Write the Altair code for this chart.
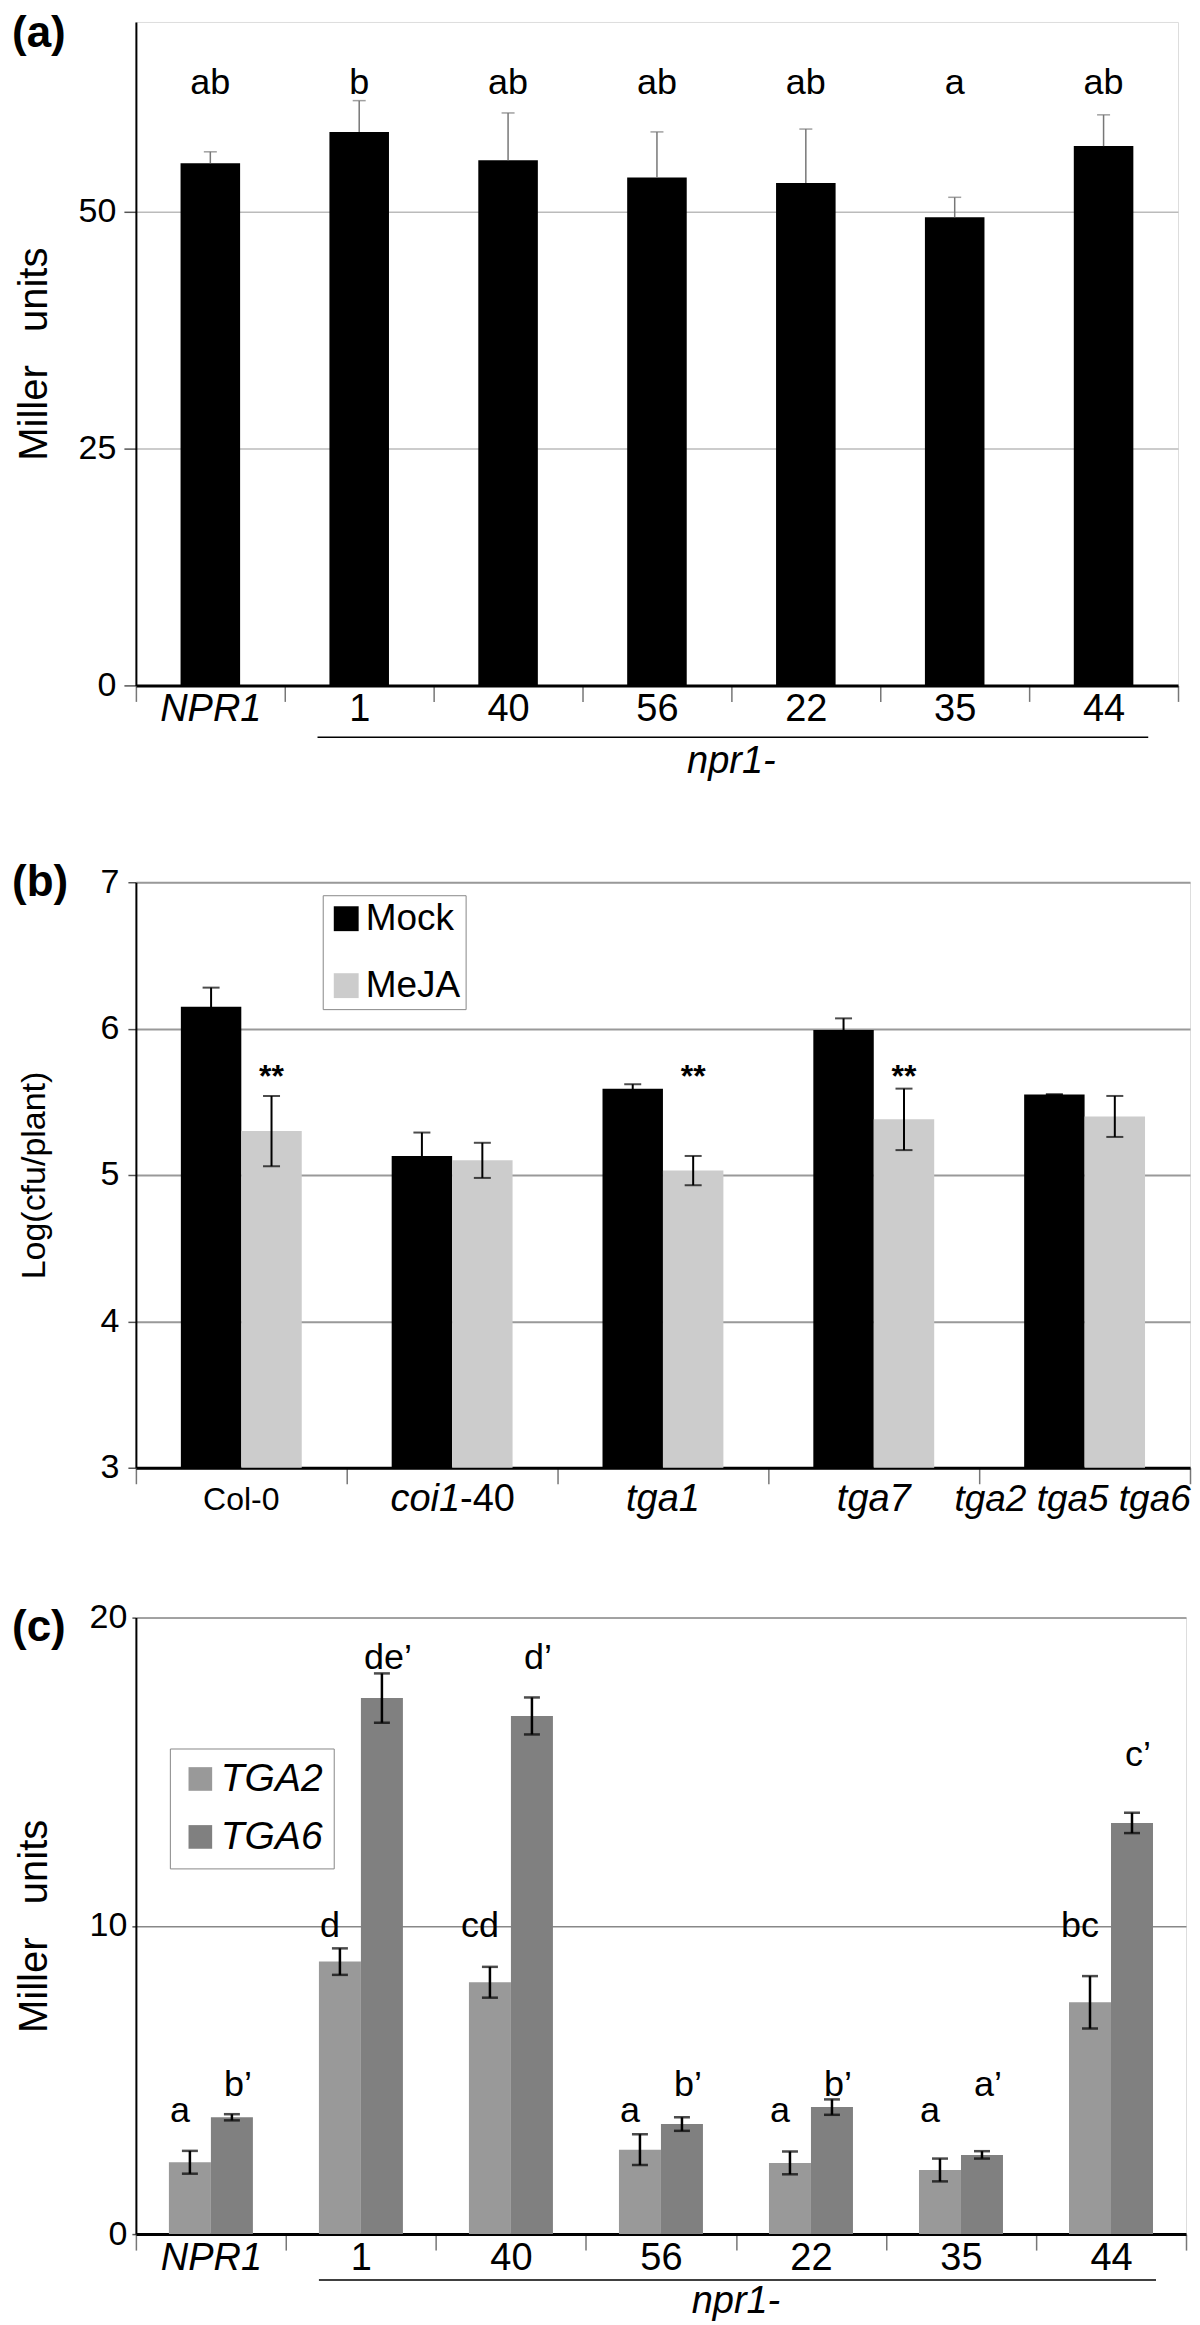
import altair as alt
import pandas as pd

FONT = "Liberation Sans, Arial, Helvetica, sans-serif"

# ---------------- Panel (a) data ----------------
a_lines = ["NPR1", "1", "40", "56", "22", "35", "44"]
a_mean = [55.1, 58.4, 55.4, 53.6, 53.0, 49.4, 56.9]
a_err = [1.2, 3.3, 5.0, 4.8, 5.7, 2.1, 3.3]
a_letters = ["ab", "b", "ab", "ab", "ab", "a", "ab"]
a_letter_y = 62.4

# ---------------- Panel (b) data ----------------
b_groups = ["Col-0", "coi1-40", "tga1", "tga7", "tga2 tga5 tga6"]
b_treat = ["Mock", "MeJA"]
b_mock = [6.15, 5.13, 5.59, 5.99, 5.55]
b_mock_err = [0.13, 0.16, 0.03, 0.08, 0.0]
b_meja = [5.30, 5.10, 5.03, 5.38, 5.40]
b_meja_err = [0.24, 0.12, 0.10, 0.21, 0.14]
b_sig_groups = ["Col-0", "tga1", "tga7"]
b_sig_text = "**"
b_sig_y = 5.6

# ---------------- Panel (c) data ----------------
c_lines = ["NPR1", "1", "40", "56", "22", "35", "44"]
c_genes = ["TGA2", "TGA6"]
c_tga2 = [2.33, 8.84, 8.17, 2.74, 2.31, 2.08, 7.52]
c_tga2_err = [0.37, 0.43, 0.50, 0.50, 0.37, 0.37, 0.85]
c_tga6 = [3.79, 17.39, 16.81, 3.57, 4.12, 2.57, 13.34]
c_tga6_err = [0.10, 0.80, 0.60, 0.22, 0.25, 0.12, 0.33]
c_tga2_letters = ["a", "d", "cd", "a", "a", "a", "bc"]
c_tga2_letter_y = [4.0, 10.0, 10.0, 4.0, 4.0, 4.0, 10.0]
c_tga6_letters = ["b\u2019", "de\u2019", "d\u2019", "b\u2019", "b\u2019", "a\u2019", "c\u2019"]
c_tga6_letter_y = [4.83, 18.7, 18.7, 4.83, 4.83, 4.83, 15.55]

npr1_group_label = "npr1-"
npr1_start, npr1_mid, npr1_end = "1", "22", "44"

W_A, H_A = 1043, 664
W_B, H_B = 1055, 586
W_C, H_C = 1051, 617
LEFT = -124


def x_axis(labels=True):
    kw = dict(title=None, tickBand="extent", tickSize=16, tickColor="#777777",
              tickWidth=1.5, domainColor="black", domainWidth=3, grid=False)
    if labels:
        kw.update(labels=True, labelFont=FONT, labelFontSize=38, labelColor="black",
                  labelAngle=0, labelBaseline="middle", labelPadding=8,
                  labelFontStyle={"condition": {"test": "datum.value === 'NPR1'", "value": "italic"},
                                  "value": "normal"})
    else:
        kw.update(labels=False)
    return alt.Axis(**kw)


def y_axis(title, values, h, tick_size, pad, grid_color, grid_w, title_size):
    return alt.Axis(title=title, values=values, format="d", titleFont=FONT, titleFontSize=title_size,
                    titleFontWeight="normal", titleColor="black", titleAngle=270,
                    titleBaseline="middle", titleAlign="center", titleX=LEFT + 23, titleY=h / 2,
                    labelFont=FONT, labelFontSize=34, labelColor="black", labelPadding=pad,
                    labelFlush=False, tickSize=tick_size, tickColor="#555555", tickWidth=1.5,
                    domainColor="black", domainWidth=2, grid=True, gridColor=grid_color,
                    gridWidth=grid_w)


def panel_label(text, y):
    return alt.Chart(pd.DataFrame({"t": [text]})).mark_text(
        font=FONT, fontSize=44, fontWeight="bold", align="left", baseline="middle", color="black"
    ).encode(text="t:N", x=alt.value(LEFT), y=alt.value(y))


def npr1_layers(domain, h, line_off, text_off):
    ud = pd.DataFrame({"s": [npr1_start], "e": [npr1_end], "m": [npr1_mid], "t": [npr1_group_label]})
    xs = alt.Scale(domain=domain, paddingInner=0, paddingOuter=0)
    line = alt.Chart(ud).mark_rule(color="black", strokeWidth=1.5).encode(
        x=alt.X("s:N", scale=xs, bandPosition=0.22),
        x2=alt.X2("e", bandPosition=0.8),
        y=alt.value(h + line_off),
    )
    txt = alt.Chart(ud).mark_text(font=FONT, fontSize=38, fontStyle="italic", baseline="middle",
                                  color="black").encode(
        x=alt.X("m:N", scale=xs, bandPosition=0),
        y=alt.value(h + text_off),
        text="t:N",
    )
    return [line, txt]


# ================= Panel (a) =================
df_a = pd.DataFrame({"line": a_lines, "val": a_mean, "err": a_err, "letter": a_letters})
df_a["hi"] = df_a["val"] + df_a["err"]
df_a["ly"] = a_letter_y

xa = alt.X("line:N", scale=alt.Scale(domain=a_lines, paddingInner=0, paddingOuter=0), axis=x_axis())
ya_scale = alt.Scale(domain=[0, 70], nice=False)

base_a = alt.Chart(df_a)
bars_a = base_a.mark_bar(color="black", width={"band": 0.4}).encode(
    x=xa,
    y=alt.Y("val:Q", scale=ya_scale,
            axis=y_axis("Miller\u00a0\u00a0\u00a0units", [0, 25, 50], H_A, 12, 8, "#bbbbbb", 1.5, 40)),
)
err_a = base_a.mark_rule(color="#777777", strokeWidth=1.5).encode(
    x="line:N", y="val:Q", y2="hi:Q")
cap_a = base_a.mark_tick(color="#777777", thickness=1.5, size=13).encode(x="line:N", y="hi:Q")
let_a = base_a.mark_text(font=FONT, fontSize=36, baseline="alphabetic", color="black").encode(
    x="line:N", y="ly:Q", text="letter:N")

panel_a = alt.layer(
    bars_a, err_a, cap_a, let_a, *npr1_layers(a_lines, H_A, 52, 77),
    panel_label("(a)", 12),
).properties(width=W_A, height=H_A)

# ================= Panel (b) =================
rows = []
for g, m, me, j, je in zip(b_groups, b_mock, b_mock_err, b_meja, b_meja_err):
    rows.append({"grp": g, "trt": b_treat[0], "val": m, "err": me})
    rows.append({"grp": g, "trt": b_treat[1], "val": j, "err": je})
df_b = pd.DataFrame(rows)
df_b["lo"] = df_b["val"] - df_b["err"]
df_b["hi"] = df_b["val"] + df_b["err"]

xb_scale = alt.Scale(domain=b_groups, paddingInner=0, paddingOuter=0)
xb = alt.X("grp:N", scale=xb_scale, axis=x_axis(labels=False))
xob = alt.XOffset("trt:N", scale=alt.Scale(domain=b_treat, paddingInner=0, paddingOuter=0.744))
yb_scale = alt.Scale(domain=[3, 7], nice=False, zero=False)

base_b = alt.Chart(df_b)
bars_b = base_b.mark_bar().encode(
    x=xb, xOffset=xob,
    y=alt.Y("val:Q", scale=yb_scale,
            axis=y_axis("Log(cfu/plant)", [3, 4, 5, 6, 7], H_B, 8, 9, "#999999", 2, 34)),
    y2=alt.datum(3),
    color=alt.Color("trt:N", scale=alt.Scale(domain=b_treat, range=["#000000", "#cccccc"]),
                    legend=alt.Legend(orient="none", legendX=187, legendY=13, title=None,
                                      symbolType="square", symbolSize=620, symbolStrokeWidth=0,
                                      symbolOpacity=1, labelFont=FONT, labelFontSize=37,
                                      labelColor="black", labelOffset=1, rowPadding=29,
                                      padding=5, strokeColor="#888888", fillColor="white",
                                      cornerRadius=0)),
)
err_b = base_b.mark_rule(color="black", strokeWidth=2).encode(
    x="grp:N", xOffset="trt:N", y="lo:Q", y2="hi:Q")
caphi_b = base_b.mark_tick(color="black", thickness=2, size=17).encode(
    x="grp:N", xOffset="trt:N", y="hi:Q")
caplo_b = base_b.mark_tick(color="black", thickness=2, size=17).encode(
    x="grp:N", xOffset="trt:N", y="lo:Q")

df_sig = pd.DataFrame({"grp": b_sig_groups, "trt": [b_treat[1]] * len(b_sig_groups),
                       "t": [b_sig_text] * len(b_sig_groups), "y": [b_sig_y] * len(b_sig_groups)})
sig_b = alt.Chart(df_sig).mark_text(font=FONT, fontSize=32, fontWeight="bold",
                                    baseline="alphabetic", color="black").encode(
    x="grp:N", xOffset="trt:N", y="y:Q", text="t:N")

LY = H_B + 32
lab_col = alt.Chart(pd.DataFrame({"grp": [b_groups[0]], "t": ["Col-0"]})).mark_text(
    font=FONT, fontSize=32, baseline="middle", color="black").encode(
    x="grp:N", y=alt.value(LY), text="t:N")
lab_coi_it = alt.Chart(pd.DataFrame({"grp": [b_groups[1]], "t": ["coi1"]})).mark_text(
    font=FONT, fontSize=38, fontStyle="italic", align="right", dx=8, baseline="middle",
    color="black").encode(x="grp:N", y=alt.value(LY), text="t:N")
lab_coi_n = alt.Chart(pd.DataFrame({"grp": [b_groups[1]], "t": ["-40"]})).mark_text(
    font=FONT, fontSize=38, align="left", dx=8, baseline="middle", color="black").encode(
    x="grp:N", y=alt.value(LY), text="t:N")
lab_tga = alt.Chart(pd.DataFrame({"grp": b_groups[2:4], "t": b_groups[2:4]})).mark_text(
    font=FONT, fontSize=38, fontStyle="italic", baseline="middle", color="black").encode(
    x="grp:N", y=alt.value(LY), text="t:N")
lab_tga3 = alt.Chart(pd.DataFrame({"grp": [b_groups[4]], "t": [b_groups[4]]})).mark_text(
    font=FONT, fontSize=37, fontStyle="italic", baseline="middle", dx=-12, color="black").encode(
    x="grp:N", y=alt.value(LY), text="t:N")

panel_b = alt.layer(
    bars_b, err_b, caphi_b, caplo_b, sig_b, lab_col, lab_coi_it, lab_coi_n, lab_tga, lab_tga3,
    panel_label("(b)", 1),
).properties(width=W_B, height=H_B)

# ================= Panel (c) =================
rows = []
for ln, v2, e2, v6, e6 in zip(c_lines, c_tga2, c_tga2_err, c_tga6, c_tga6_err):
    rows.append({"line": ln, "gene": c_genes[0], "val": v2, "err": e2})
    rows.append({"line": ln, "gene": c_genes[1], "val": v6, "err": e6})
df_c = pd.DataFrame(rows)
df_c["lo"] = df_c["val"] - df_c["err"]
df_c["hi"] = df_c["val"] + df_c["err"]

xc = alt.X("line:N", scale=alt.Scale(domain=c_lines, paddingInner=0, paddingOuter=0), axis=x_axis())
xoc = alt.XOffset("gene:N", scale=alt.Scale(domain=c_genes, paddingInner=0, paddingOuter=0.786))
yc_scale = alt.Scale(domain=[0, 20], nice=False)

base_c = alt.Chart(df_c)
bars_c = base_c.mark_bar().encode(
    x=xc, xOffset=xoc,
    y=alt.Y("val:Q", scale=yc_scale,
            axis=y_axis("Miller\u00a0\u00a0\u00a0units", [0, 10, 20], H_C, 4, 5, "#888888", 1.5, 40)),
    color=alt.Color("gene:N", scale=alt.Scale(domain=c_genes, range=["#999999", "#808080"]),
                    legend=alt.Legend(orient="none", legendX=34, legendY=131, title=None,
                                      symbolType="square", symbolSize=560, symbolStrokeWidth=0,
                                      symbolOpacity=1, labelFont=FONT, labelFontSize=39,
                                      labelFontStyle="italic", labelColor="black", labelOffset=1,
                                      rowPadding=18, padding=11, strokeColor="#888888",
                                      fillColor="white", cornerRadius=0)),
)
err_c = base_c.mark_rule(color="black", strokeWidth=2.5).encode(
    x="line:N", xOffset="gene:N", y="lo:Q", y2="hi:Q")
caphi_c = base_c.mark_tick(color="black", thickness=2.5, size=16).encode(
    x="line:N", xOffset="gene:N", y="hi:Q")
caplo_c = base_c.mark_tick(color="black", thickness=2.5, size=16).encode(
    x="line:N", xOffset="gene:N", y="lo:Q")

df_l2 = pd.DataFrame({"line": c_lines, "gene": [c_genes[0]] * 7, "t": c_tga2_letters, "y": c_tga2_letter_y})
df_l6 = pd.DataFrame({"line": c_lines, "gene": [c_genes[1]] * 7, "t": c_tga6_letters, "y": c_tga6_letter_y})
let2_c = alt.Chart(df_l2).mark_text(font=FONT, fontSize=36, baseline="middle", dx=-10,
                                    color="black").encode(
    x="line:N", xOffset="gene:N", y="y:Q", text="t:N")
let6_c = alt.Chart(df_l6).mark_text(font=FONT, fontSize=36, baseline="middle", dx=6,
                                    color="black").encode(
    x="line:N", xOffset="gene:N", y="y:Q", text="t:N")

panel_c = alt.layer(
    bars_c, err_c, caphi_c, caplo_c, let2_c, let6_c, *npr1_layers(c_lines, H_C, 46, 68),
    panel_label("(c)", 10),
).properties(width=W_C, height=H_C)

indep = dict(color="independent", xOffset="independent", x="independent", y="independent")
top = alt.vconcat(panel_a, panel_b, spacing=78).resolve_scale(**indep).resolve_legend(color="independent")
chart = alt.vconcat(top, panel_c, spacing=80).resolve_scale(**indep).resolve_legend(
    color="independent"
).properties(
    padding={"left": 3, "top": 2, "right": 0, "bottom": 0}
).configure_view(stroke="black", strokeWidth=2.5, fill="white").configure(background="white")

chart.save("out.html", embed_options={"renderer": "svg", "actions": False})
